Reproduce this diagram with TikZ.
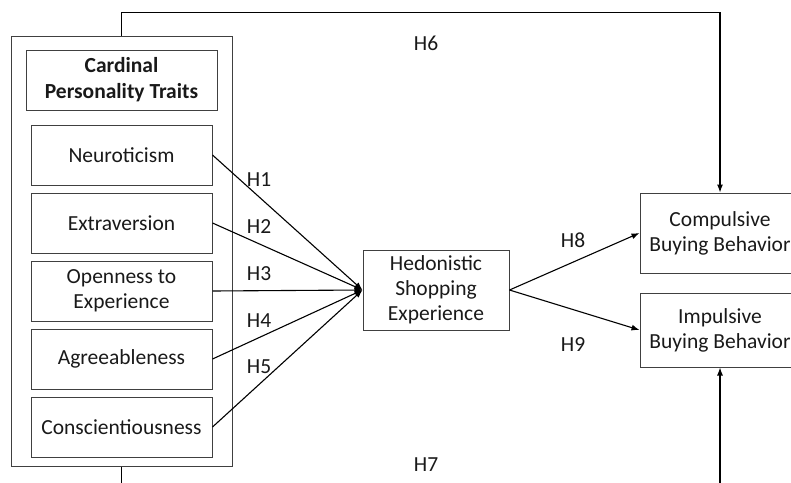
\documentclass[tikz,border=0pt]{standalone}
\usepackage{fontspec}
\setmainfont{Carlito}
\usetikzlibrary{arrows.meta, positioning}

\begin{document}
\begin{tikzpicture}[
        x=1pt, y=-1pt,
        every node/.style={font=\fontsize{21.5}{25}\selectfont, align=center, text=black!90},
        box/.style={draw=black!75, line width=1pt, minimum width=181pt, minimum height=60pt, inner sep=0pt},
        arrow/.style={-{Latex[length=8pt, width=6pt]}, line width=1.1pt},
        hyp/.style={inner sep=0pt}
        ]
        \clip (0,0) rectangle (791,482);

        % Personality traits block
        \node[box, minimum width=221pt, minimum height=430pt] (Traits) at (121.5,251) {};
        \node[box, minimum width=191pt, font=\fontsize{21.5}{26}\selectfont\bfseries] (Title) at (121.5,80) {Cardinal\\Personality Traits};
        \foreach \t [count=\i] in {Neuroticism, Extraversion, {Openness to\\Experience}, Agreeableness, Conscientiousness} {
                \node[box] (T-\i) at (121.5, 155+68*\i-68) {\t};
            }

        % Mediator and outcomes
        \node[box, minimum width=146pt, minimum height=80pt] (Hedonic) at (436,290) {Hedonistic\\Shopping\\Experience};
        \node[box, minimum width=160pt, minimum height=80pt] (Compulsive) at (720,233) {Compulsive\\Buying Behavior};
        \node[box, minimum width=160pt, minimum height=74pt] (Impulsive) at (720,330) {Impulsive\\Buying Behavior};

        % Connect traits to the mediator
        \foreach \i in {1,...,5} {
                \draw[arrow] (T-\i.east) -- (Hedonic.west);
                \node[hyp] (H\i) at (259, 180+46.75*\i-46.75) {H\i};
            }
        \draw[arrow] (Hedonic.east) -- (Compulsive.west);
        \draw[arrow] (Hedonic.east) -- (Impulsive.west);
        \node[hyp] (H8) at (573,240) {H8};
        \node[hyp] (H9) at (573,345) {H9};

        % Direct paths
        \draw[arrow] (Traits.north) -- ++(0,-23) -| (Compulsive.north);
        \draw[arrow] (Traits.south) -- ++(0,40) -| (Impulsive.south);
        \node[hyp] (H6) at (426,43) {H6};
        \node[hyp] (H7) at (426,465) {H7};
    \end{tikzpicture}
\end{document}
